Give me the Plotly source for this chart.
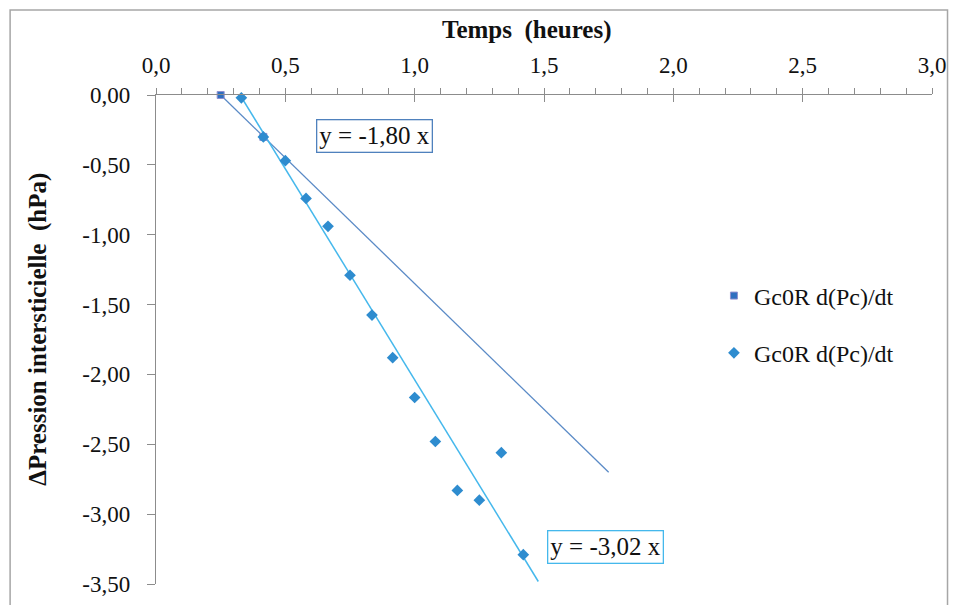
import plotly.graph_objects as go
import numpy as np

# ---- data ----
# series 1 (squares)
s1_t = [0.25, 0.415]
s1_p = [0.00, -0.30]
# series 2 (diamonds)
s2_t = [0.33, 0.415, 0.50, 0.58, 0.665, 0.75, 0.835, 0.915, 1.00, 1.08, 1.165, 1.25, 1.335, 1.42]
s2_p = [-0.02, -0.30, -0.47, -0.74, -0.94, -1.29, -1.575, -1.88, -2.165, -2.48, -2.83, -2.90, -2.56, -3.29]

# trendlines (slope, origin, end of drawn segment)
trend1_slope, trend1_t0, trend1_t1 = -1.80, 0.25, 1.75
trend2_slope, trend2_t0, trend2_t1 = -3.02, 0.325, 1.478
eq1_text = "y = -1,80 x"
eq2_text = "y = -3,02 x"

legend_names = ["Gc0R d(Pc)/dt", "Gc0R d(Pc)/dt"]

x_tickvals = [0.0, 0.5, 1.0, 1.5, 2.0, 2.5, 3.0]
x_ticktext = ["0,0", "0,5", "1,0", "1,5", "2,0", "2,5", "3,0"]
y_tickvals = [0.0, -0.5, -1.0, -1.5, -2.0, -2.5, -3.0, -3.5]
y_ticktext = ["0,00", "-0,50", "-1,00", "-1,50", "-2,00", "-2,50", "-3,00", "-3,50"]

x_title = "Temps  (heures)"
y_title = "ΔPression intersticielle  (hPa)"

SERIF = "Liberation Serif, Times New Roman, serif"
AXIS_COL = "#8c8c8c"
TXT = "#111111"

fig = go.Figure()

t1 = np.array([trend1_t0, trend1_t1])
t2 = np.array([trend2_t0, trend2_t1])
fig.add_trace(go.Scatter(x=t1, y=trend1_slope * (t1 - trend1_t0), mode="lines",
                         line=dict(color="#5a8ac6", width=1.3), showlegend=False, hoverinfo="skip"))
fig.add_trace(go.Scatter(x=t2, y=trend2_slope * (t2 - trend2_t0), mode="lines",
                         line=dict(color="#45b8ec", width=1.5), showlegend=False, hoverinfo="skip"))

fig.add_trace(go.Scatter(x=s1_t, y=s1_p, mode="markers", name=legend_names[0], legendgroup="a",
                         cliponaxis=False,
                         marker=dict(symbol="square", size=7, color="#2f6fbf",
                                     line=dict(color="#9090d0", width=1))))
fig.add_trace(go.Scatter(x=s2_t, y=s2_p, mode="markers", name=legend_names[1], legendgroup="b",
                         cliponaxis=False,
                         marker=dict(symbol="diamond", size=9, color="#2e8ccf",
                                     line=dict(width=0))))
# helper trace for crossing major ticks on the top axis
fig.add_trace(go.Scatter(x=[None], y=[None], xaxis="x2", showlegend=False, hoverinfo="skip"))

# the page body adds an 8px offset; compensate so the plot area sits at x 156-932, y 95-584
fig.update_layout(
    width=949, height=597,
    margin=dict(l=148, r=25, t=87, b=21, autoexpand=False),
    paper_bgcolor="white", plot_bgcolor="white",
    font=dict(family=SERIF, size=22, color=TXT),
    xaxis=dict(range=[0, 3], side="top", showline=True, linecolor=AXIS_COL, linewidth=1.3,
               showgrid=False, zeroline=False, tickmode="array", tickvals=x_tickvals,
               ticktext=x_ticktext, ticks="inside", ticklen=7, tickcolor=AXIS_COL,
               ticklabelstandoff=12, automargin=False,
               minor=dict(ticks="outside", ticklen=6, dtick=0.1, tickcolor=AXIS_COL, showgrid=False),
               tickfont=dict(family=SERIF, size=23, color=TXT)),
    xaxis2=dict(range=[0, 3], overlaying="x", side="top", showline=False, showgrid=False,
                zeroline=False, tickmode="array", tickvals=x_tickvals, showticklabels=False,
                ticks="outside", ticklen=6, tickcolor=AXIS_COL, automargin=False),
    yaxis=dict(range=[-3.5, 0], showline=True, linecolor=AXIS_COL, linewidth=1.3,
               showgrid=False, zeroline=False, tickmode="array", tickvals=y_tickvals,
               ticktext=y_ticktext, ticks="outside", ticklen=8, tickcolor=AXIS_COL,
               ticklabelstandoff=12, automargin=False,
               tickfont=dict(family=SERIF, size=23, color=TXT)),
    legend=dict(x=0.719, y=0.635, xanchor="left", yanchor="top", traceorder="grouped",
                tracegroupgap=23, font=dict(family=SERIF, size=24, color=TXT),
                bgcolor="rgba(0,0,0,0)", itemwidth=30),
    showlegend=True,
)

fig.add_annotation(xref="paper", yref="paper", x=0.478, y=1.133, xanchor="center", yanchor="middle",
                   text="<b>" + x_title + "</b>",
                   showarrow=False, font=dict(family=SERIF, size=25, color=TXT))
fig.add_annotation(xref="paper", yref="paper", x=-0.152, y=0.52, xanchor="center", yanchor="middle",
                   text="<b>" + y_title + "</b>",
                   textangle=-90, showarrow=False, font=dict(family=SERIF, size=25, color=TXT))

fig.add_annotation(x=0.843, y=-0.293, xanchor="center", yanchor="middle", text=eq1_text, showarrow=False,
                   font=dict(family=SERIF, size=25, color=TXT),
                   bordercolor="#4f81bd", borderwidth=1.3, borderpad=2, bgcolor="white")
fig.add_annotation(x=1.736, y=-3.236, xanchor="center", yanchor="middle", text=eq2_text, showarrow=False,
                   font=dict(family=SERIF, size=25, color=TXT),
                   bordercolor="#45b8ec", borderwidth=1.3, borderpad=2, bgcolor="white")

# outer chart frame
fig.add_shape(type="rect", xref="paper", yref="paper", x0=-0.188, x1=1.02, y0=-0.06, y1=1.174,
              line=dict(color="#a6a6a6", width=1.5), fillcolor="rgba(0,0,0,0)", layer="below")

fig.write_html("out.html")
